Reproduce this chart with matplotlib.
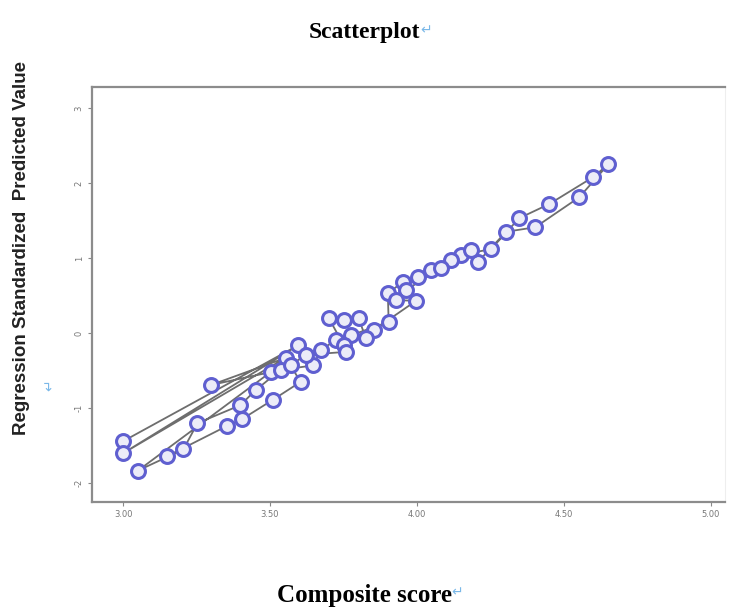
import matplotlib
matplotlib.use('Agg')
import matplotlib.pyplot as plt
import numpy as np

# composite score and predicted value, in case order (SPSS joins the cases in this order)
score = [3.000, 3.597, 3.000, 3.553, 3.300, 3.502, 3.051, 3.205, 3.253, 3.399,
         3.451, 3.536, 3.648, 3.672, 3.724, 3.775, 3.904, 3.901, 3.952, 4.003,
         4.048, 4.150, 4.253, 4.348, 4.451, 4.601, 4.652,
         4.553, 4.403, 4.304, 4.208, 4.184, 4.116, 4.082, 3.962, 3.928, 3.997,
         3.853, 3.826, 3.802, 3.751, 3.700, 3.751, 3.758, 3.621, 3.570, 3.604,
         3.509, 3.403, 3.352, 3.150]
predicted = [-1.44, -0.16, -1.60, -0.33, -0.69, -0.52, -1.83, -1.55, -1.20, -0.96,
             -0.76, -0.49, -0.43, -0.23, -0.09, -0.03, 0.15, 0.53, 0.68, 0.75,
             0.84, 1.04, 1.12, 1.53, 1.72, 2.08, 2.25,
             1.81, 1.41, 1.35, 0.95, 1.11, 0.97, 0.87, 0.57, 0.44, 0.43,
             0.04, -0.07, 0.20, 0.17, 0.20, -0.16, -0.25, -0.29, -0.43, -0.65,
             -0.89, -1.15, -1.24, -1.64]

x_ticks = [3.00, 3.50, 4.00, 4.50, 5.00]
y_ticks = [-2, -1, 0, 1, 2, 3]

fig = plt.figure(figsize=(7.33, 6.16), dpi=100)
ax = fig.add_axes([0.1255, 0.185, 0.864, 0.674])

ax.plot(score, predicted, '-', color='#303030', lw=1.3, alpha=0.7, zorder=2)
ax.plot(score, predicted, 'o', ms=10, mfc='#ececf8', mec='#5f5fd0', mew=2.2, zorder=3)

ax.set_xlim(2.894, 5.05)
ax.set_ylim(-2.25, 3.28)
ax.set_xticks(x_ticks)
ax.set_xticklabels(['%.2f' % v for v in x_ticks], fontsize=6, color='#777777')
ax.set_yticks(y_ticks)
ax.set_yticklabels([str(v) for v in y_ticks], fontsize=6, color='#777777',
                   rotation=90, va='center')
ax.tick_params(direction='out', length=3, width=0.8, color='#888888', pad=3)

for side in ['left', 'bottom', 'top']:
    ax.spines[side].set_color('#8c8c8c')
    ax.spines[side].set_linewidth(1.6)
ax.spines['right'].set_color('#eeeeee')

serif = ['Liberation Serif', 'DejaVu Serif']
fig.text(0.497, 0.948, 'Scatterplot', ha='center', va='center', fontsize=17,
         fontweight='bold', family=serif)
fig.text(0.574, 0.951, '\u21b5', ha='left', va='center', fontsize=10,
         color='#7ab8e8', family='DejaVu Sans')
fig.text(0.497, 0.034, 'Composite score', ha='center', va='center', fontsize=18,
         fontweight='bold', family=serif)
fig.text(0.616, 0.039, '\u21b5', ha='left', va='center', fontsize=10,
         color='#7ab8e8', family='DejaVu Sans')

fig.text(0.030, 0.597, 'Regression Standardized  Predicted Value', rotation=90,
         ha='center', va='center', fontsize=13.5, fontweight='bold',
         family='Liberation Sans', color='#222222')
fig.text(0.068, 0.375, '\u21b5', rotation=90, ha='center', va='center',
         fontsize=10, color='#7ab8e8', family='DejaVu Sans')

fig.savefig('out.png', dpi=100)
